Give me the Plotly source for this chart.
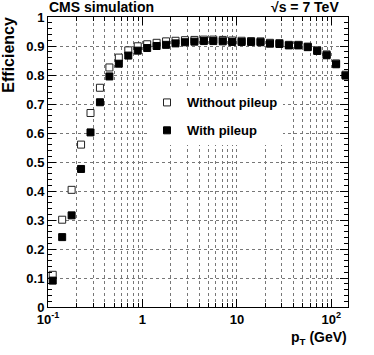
import plotly.graph_objects as go
import numpy as np

# bin centres in log10(pT)
log_pt_centers = [-0.95 + 0.1 * i for i in range(32)]
pt = [10 ** v for v in log_pt_centers]

eff_without_pileup = [0.111, 0.301, 0.404, 0.560, 0.669, 0.756, 0.826, 0.860,
                      0.885, 0.899, 0.906, 0.911, 0.916, 0.918, 0.920, 0.921,
                      0.922, 0.922, 0.921, 0.919, 0.918, 0.917, 0.916, 0.911,
                      0.910, 0.904, 0.904, 0.898, 0.885, 0.871, 0.840, 0.801]
eff_with_pileup = [0.091, 0.241, 0.316, 0.476, 0.602, 0.706, 0.795, 0.839,
                   0.867, 0.884, 0.893, 0.900, 0.904, 0.909, 0.913, 0.915,
                   0.917, 0.917, 0.916, 0.914, 0.914, 0.914, 0.913, 0.908,
                   0.907, 0.902, 0.902, 0.896, 0.883, 0.868, 0.837, 0.798]

x_tick_vals = [0.1, 1, 10, 100]
x_tick_text = ["10<sup>-1</sup>", "1", "10", "10<sup>2</sup>"]
x_minor_vals = [m * d for d in (0.1, 1, 10, 100) for m in range(2, 10) if m * d <= 150]
y_tick_vals = [0, 0.1, 0.2, 0.3, 0.4, 0.5, 0.6, 0.7, 0.8, 0.9, 1]
y_tick_text = ["0", "0.1", "0.2", "0.3", "0.4", "0.5", "0.6", "0.7", "0.8", "0.9", "1"]

FONT = "Liberation Sans, Arial, sans-serif"

fig = go.Figure()
fig.add_trace(go.Scatter(
    x=pt, y=eff_without_pileup, mode="markers", name="Without pileup",
    legendgroup="a",
    marker=dict(symbol="square", size=7, color="white",
                line=dict(color="#222", width=1)),
))
fig.add_trace(go.Scatter(
    x=pt, y=eff_with_pileup, mode="markers", name="With pileup",
    legendgroup="b",
    marker=dict(symbol="square", size=7, color="black",
                line=dict(color="black", width=1)),
))

grid = dict(showgrid=True, gridcolor="#777", griddash="dot", gridwidth=1)

fig.update_xaxes(
    type="log", range=[-1, np.log10(150)], automargin=False,
    tickmode="array", tickvals=x_tick_vals, ticktext=x_tick_text,
    ticks="inside", ticklen=8, tickcolor="black",
    showline=True, linecolor="black", linewidth=1, mirror="ticks",
    tickfont=dict(family=FONT, size=13, color="black", weight="bold"),
    minor=dict(tickmode="array", tickvals=x_minor_vals, ticks="inside",
               ticklen=4, tickcolor="black", showgrid=True,
               gridcolor="#777", griddash="dot", gridwidth=1),
    zeroline=False, **grid,
)
fig.update_yaxes(
    range=[0, 1], automargin=False,
    tickmode="array", tickvals=y_tick_vals, ticktext=y_tick_text,
    ticks="inside", ticklen=8, tickcolor="black",
    showline=True, linecolor="black", linewidth=1, mirror="ticks",
    tickfont=dict(family=FONT, size=13, color="black", weight="bold"),
    minor=dict(dtick=0.02, ticks="inside", ticklen=4, tickcolor="black",
               showgrid=False),
    zeroline=False, **grid,
)

fig.update_layout(
    width=374, height=355,
    margin=dict(l=48, r=26, t=17, b=48),
    paper_bgcolor="white", plot_bgcolor="white",
    showlegend=True,
    legend=dict(x=0.33, y=0.757, xanchor="left", yanchor="top",
                bgcolor="white", borderwidth=0, tracegroupgap=8,
                font=dict(family=FONT, size=13, color="black", weight="bold")),
    annotations=[
        dict(text="CMS simulation", x=0, y=1, xref="paper", yref="paper",
             xanchor="left", yanchor="bottom", yshift=0, xshift=-1, showarrow=False,
             font=dict(family=FONT, size=14, color="black", weight="bold")),
        dict(text="√s = 7 TeV", x=1, y=1, xref="paper", yref="paper",
             xanchor="right", yanchor="bottom", yshift=0, xshift=-7, showarrow=False,
             font=dict(family=FONT, size=14, color="black", weight="bold")),
        dict(text="Efficiency", x=-0.13, y=0.87, xref="paper", yref="paper",
             xanchor="center", yanchor="middle", textangle=-90, showarrow=False,
             font=dict(family=FONT, size=16, color="black", weight="bold")),
        dict(text="p<sub>T</sub> (GeV)", x=1, y=-0.07, xref="paper", yref="paper",
             xanchor="right", yanchor="top", xshift=1, showarrow=False,
             font=dict(family=FONT, size=14, color="black", weight="bold")),
    ],
)

fig.write_html("out.html", config={"displayModeBar": False},
               post_script="document.body.style.margin='0';")
